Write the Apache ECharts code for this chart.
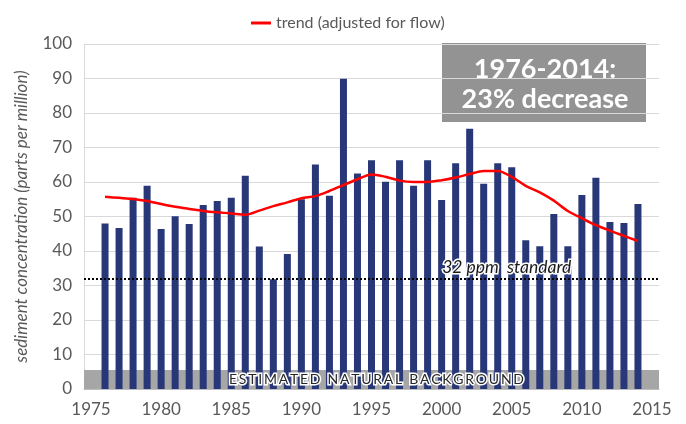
<!DOCTYPE html>
<html>
<head>
<meta charset="utf-8">
<script src="https://cdn.jsdelivr.net/npm/echarts@6/dist/echarts.min.js"></script>
<style>
  html, body { margin: 0; padding: 0; background: #fff; }
  #chart { width: 686px; height: 424px; }
</style>
</head>
<body>
<div id="chart"></div>
<script>
// categories (one per year, labels every 5th)
var years = [
  "1975", "1976", "1977", "1978", "1979", "1980", "1981", "1982", "1983", "1984",
  "1985", "1986", "1987", "1988", "1989", "1990", "1991", "1992", "1993", "1994",
  "1995", "1996", "1997", "1998", "1999", "2000", "2001", "2002", "2003", "2004",
  "2005", "2006", "2007", "2008", "2009", "2010", "2011", "2012", "2013", "2014",
  "2015"
];

// yearly sediment concentration (ppm)
var sediment = [
  null, 48, 46.7, 55.4, 58.9, 46.4, 50.1, 47.8, 53.3, 54.5,
  55.4, 61.8, 41.3, 31.8, 39.1, 55.0, 65.1, 56.0, 89.9, 62.5,
  66.3, 60.1, 66.3, 58.9, 66.3, 54.8, 65.4, 75.4, 59.5, 65.4,
  64.3, 43.1, 41.4, 50.7, 41.4, 56.2, 61.2, 48.4, 48.1, 53.6,
  null
];

// trend adjusted for flow
var trend = [
  null, 55.7, 55.4, 55.1, 54.5, 53.6, 52.8, 52.2, 51.6, 51.2,
  50.9, 50.5, 51.7, 53.0, 54.1, 55.3, 55.9, 57.4, 59.1, 60.8,
  62.2, 61.5, 60.4, 60.0, 60.0, 60.5, 61.3, 62.3, 63.2, 63.2,
  61.5, 58.9, 57.0, 54.6, 51.6, 49.5, 47.5, 45.9, 44.4, 42.9,
  null
];

var naturalBackground = 5.5;
var standard = 32;
var yMin = 0, yMax = 100, yStep = 10;

// spread letters a bit, like the original label
function spaced(s) {
  return s.split("").join("\u2009");
}

var chart = echarts.init(document.getElementById("chart"));
chart.setOption({
  animation: false,
  textStyle: { fontFamily: "Lato" },
  legend: {
    data: ["trend (adjusted for flow)"],
    left: 246,
    top: 10,
    icon: "rect",
    itemWidth: 20,
    itemHeight: 3,
    itemGap: 8,
    textStyle: { fontSize: 16, color: "#595959", fontFamily: "Lato" }
  },
  grid: { left: 84, right: 27, top: 44, bottom: 35 },
  xAxis: {
    type: "category",
    data: years,
    boundaryGap: true,
    axisLine: { lineStyle: { color: "#bfbfbf" } },
    axisTick: { interval: 4, length: 5, lineStyle: { color: "#bfbfbf" } },
    axisLabel: { interval: 4, fontSize: 17, color: "#595959", margin: 12, fontFamily: "Lato" }
  },
  yAxis: {
    type: "value",
    min: yMin,
    max: yMax,
    interval: yStep,
    name: "sediment concentration (parts per million)",
    nameLocation: "middle",
    nameGap: 54,
    nameTextStyle: { fontSize: 17, fontStyle: "italic", color: "#595959", fontFamily: "Lato" },
    axisLine: { show: true, lineStyle: { color: "#d9d9d9" } },
    axisTick: { show: false },
    axisLabel: { fontSize: 17, color: "#595959", margin: 12, fontFamily: "Lato" },
    splitLine: { lineStyle: { color: "#d9d9d9" } }
  },
  series: [
    {
      name: "sediment",
      type: "bar",
      data: sediment,
      barWidth: 7,
      itemStyle: { color: "#283777" },
      markArea: {
        silent: true,
        itemStyle: { color: "#a6a6a6", opacity: 1 },
        data: [[{ yAxis: 0 }, { yAxis: naturalBackground }]]
      },
      markLine: {
        silent: true,
        symbol: "none",
        label: { show: false },
        lineStyle: { color: "#000", type: [2, 2], width: 2 },
        data: [{ yAxis: standard }]
      },
      markPoint: {
        silent: true,
        symbol: "circle",
        symbolSize: 0,
        data: [
          {
            coord: ["1995", naturalBackground / 2],
            label: {
              show: true,
              formatter: spaced("ESTIMATED NATURAL BACKGROUND"),
              position: "inside",
              offset: [5, 0],
              fontSize: 14,
              color: "#262626",
              fontFamily: "Lato",
              textBorderColor: "#fff",
              textBorderWidth: 3
            }
          },
          {
            coord: ["2005", standard],
            label: {
              show: true,
              formatter: "32 ppm  standard",
              position: "inside",
              offset: [-5, -11],
              fontSize: 17.5,
              fontStyle: "italic",
              color: "#1a1a1a",
              fontFamily: "Lato",
              textBorderColor: "#fff",
              textBorderWidth: 3
            }
          }
        ]
      }
    },
    {
      name: "trend (adjusted for flow)",
      type: "line",
      data: trend,
      smooth: 0.3,
      symbol: "none",
      color: "#ff0000",
      lineStyle: { color: "#ff0000", width: 2.5 }
    }
  ],
  graphic: [
    {
      type: "group",
      z: 100,
      children: [
        {
          type: "rect",
          shape: { x: 442, y: 43, width: 204, height: 79 },
          style: { fill: "#939393" }
        },
        {
          type: "text",
          x: 545,
          y: 84,
          style: {
            text: "1976-2014:\n23% decrease",
            fill: "#fff",
            font: "bold 27px Lato",
            align: "center",
            verticalAlign: "middle",
            lineHeight: 30
          }
        }
      ]
    }
  ]
});
</script>
</body>
</html>
